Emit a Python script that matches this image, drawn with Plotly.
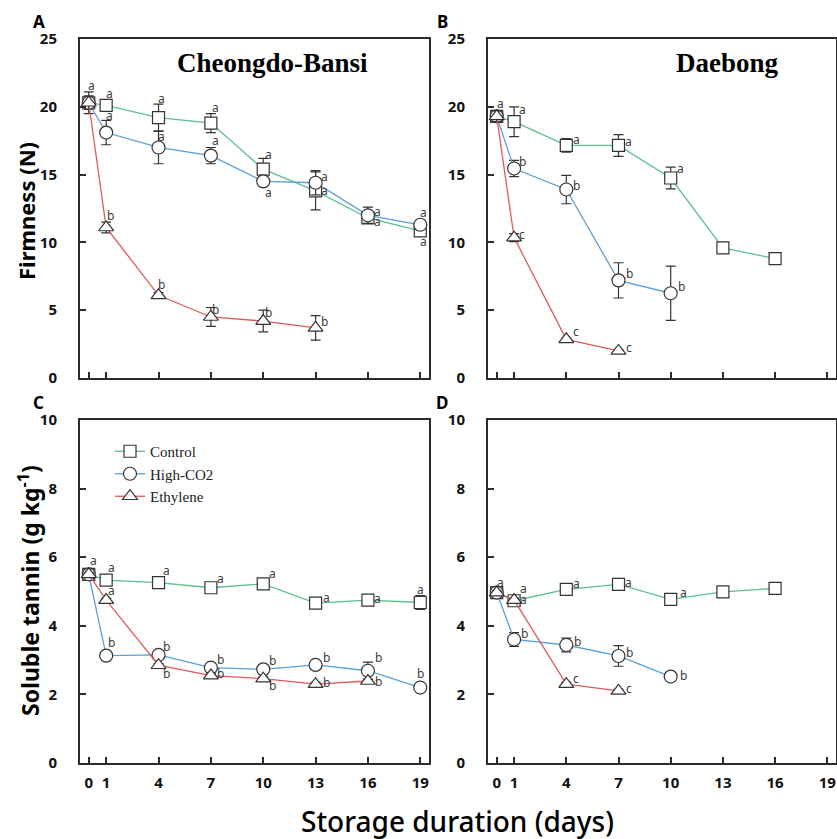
import plotly.graph_objects as go

# ---------------- data ----------------
tick_days = [0, 1, 4, 7, 10, 13, 16, 19]
series_names = ["Control", "High-CO2", "Ethylene"]
panel_titles = ["Cheongdo-Bansi", "Daebong"]
panel_letters = ["A", "B", "C", "D"]

# Panel A: firmness, Cheongdo-Bansi
A_control_days = [0, 1, 4, 7, 10, 13, 16, 19]
A_control = [20.3, 20.1, 19.2, 18.8, 15.4, 13.8, 11.8, 10.85]
A_control_err = [0.3, 0.3, 1.0, 0.7, 0.8, 1.4, 0.4, 0.3]
A_control_let = ["a", "a", "a", "a", "a", "a", "a", "a"]
A_high_days = [0, 1, 4, 7, 10, 13, 16, 19]
A_high = [20.3, 18.1, 17.0, 16.4, 14.5, 14.4, 12.0, 11.3]
A_high_err = [0.5, 0.9, 1.2, 0.6, 0.3, 0.9, 0.6, 0.3]
A_high_let = [None, "a", "a", "a", "a", "a", "a", "a"]
A_eth_days = [0, 1, 4, 7, 10, 13]
A_eth = [20.3, 11.1, 6.1, 4.5, 4.2, 3.7]
A_eth_err = [0.8, 0.4, 0.2, 0.7, 0.8, 0.9]
A_eth_let = [None, "b", "b", "b", "b", "b"]

# Panel B: firmness, Daebong
B_control_days = [0, 1, 4, 7, 10, 13, 16]
B_control = [19.3, 18.9, 17.15, 17.15, 14.75, 9.6, 8.8]
B_control_err = [0.4, 1.1, 0.5, 0.8, 0.8, 0.4, 0.0]
B_control_let = ["a", "a", "a", "a", "a", None, None]
B_high_days = [0, 1, 4, 7, 10]
B_high = [19.3, 15.45, 13.9, 7.2, 6.25]
B_high_err = [0.4, 0.6, 1.05, 1.3, 2.0]
B_high_let = [None, "b", "b", "b", "b"]
B_eth_days = [0, 1, 4, 7]
B_eth = [19.3, 10.35, 2.85, 2.0]
B_eth_err = [0.4, 0.3, 0.1, 0.1]
B_eth_let = [None, "c", "c", "c"]

# Panel C: soluble tannin, Cheongdo-Bansi
C_control_days = [0, 1, 4, 7, 10, 13, 16, 19]
C_control = [5.5, 5.33, 5.26, 5.11, 5.22, 4.66, 4.75, 4.68]
C_control_err = [0.05, 0.05, 0.05, 0.05, 0.05, 0.05, 0.05, 0.2]
C_control_let = ["a", "a", "a", "a", "a", "a", "a", "a"]
C_high_days = [0, 1, 4, 7, 10, 13, 16, 19]
C_high = [5.5, 3.13, 3.15, 2.78, 2.73, 2.86, 2.69, 2.2]
C_high_err = [0.05, 0.05, 0.05, 0.08, 0.05, 0.05, 0.25, 0.05]
C_high_let = [None, "b", "b", "b", "b", "b", "b", "b"]
C_eth_days = [0, 1, 4, 7, 10, 13, 16]
C_eth = [5.5, 4.75, 2.85, 2.55, 2.46, 2.3, 2.39]
C_eth_err = [0.05, 0.05, 0.05, 0.05, 0.05, 0.05, 0.05]
C_eth_let = [None, "a", "b", "b", "b", "b", "b"]

# Panel D: soluble tannin, Daebong
D_control_days = [0, 1, 4, 7, 10, 13, 16]
D_control = [4.97, 4.73, 5.06, 5.21, 4.77, 4.99, 5.09]
D_control_err = [0.05, 0.05, 0.05, 0.05, 0.05, 0.05, 0.05]
D_control_let = ["a", "a", "a", "a", "a", None, None]
D_high_days = [0, 1, 4, 7, 10]
D_high = [4.97, 3.6, 3.44, 3.12, 2.52]
D_high_err = [0.05, 0.2, 0.2, 0.3, 0.05]
D_high_let = [None, "b", "b", "b", "b"]
D_eth_days = [0, 1, 4, 7]
D_eth = [4.97, 4.75, 2.3, 2.1]
D_eth_err = [0.05, 0.05, 0.05, 0.05]
D_eth_let = [None, "a", "c", "c"]

# ---------------- styles ----------------
W, H = 837, 839
colors = ["#5cbf8e", "#5b9fd6", "#e05a5a"]
symbols = ["square", "circle", "triangle-up"]
msizes = [12, 13, 13]
AX = "#2b2b2b"
FONT = "Noto Sans"

# letter label offsets (pixels, x right / y up), per panel per series
offsets = {
    "A": [
        [(3, 17), (3, 12), (3, 19), (5, 16), (5, 15), (9, 0), (10, -4), (3, -11)],
        [None, (3, 17), (3, 11), (5, 15), (5, -11), (9, 6), (10, 4), (3, 12)],
        [None, (4, 12), (3, 11), (5, 7), (5, 9), (9, 6)],
    ],
    "B": [
        [(4, 13), (8, 12), (10, 6), (10, 4), (10, 9), None, None],
        [None, (8, 7), (10, 4), (11, 7), (11, 7)],
        [None, (8, 3), (10, 8), (10, 3)],
    ],
    "C": [
        [(5, 14), (5, 13), (8, 12), (10, 9), (9, 10), (11, 6), (10, 2), (0, 13)],
        [None, (5, 13), (8, 8), (10, 8), (9, 9), (11, 7), (11, 13), (0, 14)],
        [None, (5, 10), (8, -8), (10, 2), (9, -7), (11, 2), (11, 0)],
    ],
    "D": [
        [(4, 10), (9, 12), (10, 6), (10, 2), (13, 7), None, None],
        [None, (10, 6), (11, 4), (11, 3), (13, 1)],
        [None, (9, 1), (10, 6), (10, 2)],
    ],
}

panels = {
    "A": [(A_control_days, A_control, A_control_err, A_control_let),
          (A_high_days, A_high, A_high_err, A_high_let),
          (A_eth_days, A_eth, A_eth_err, A_eth_let)],
    "B": [(B_control_days, B_control, B_control_err, B_control_let),
          (B_high_days, B_high, B_high_err, B_high_let),
          (B_eth_days, B_eth, B_eth_err, B_eth_let)],
    "C": [(C_control_days, C_control, C_control_err, C_control_let),
          (C_high_days, C_high, C_high_err, C_high_let),
          (C_eth_days, C_eth, C_eth_err, C_eth_let)],
    "D": [(D_control_days, D_control, D_control_err, D_control_let),
          (D_high_days, D_high, D_high_err, D_high_let),
          (D_eth_days, D_eth, D_eth_err, D_eth_let)],
}

# pixel boxes of each panel: (left, right, top, bottom)
boxes = {"A": (80, 429, 39, 378), "B": (488, 836, 39, 378),
         "C": (80, 429, 420, 763), "D": (488, 836, 420, 763)}
axis_ids = {"A": "", "B": "2", "C": "3", "D": "4"}
yranges = {"A": [0, 25], "B": [0, 25], "C": [0, 10], "D": [0, 10]}
ydticks = {"A": 5, "B": 5, "C": 2, "D": 2}

fig = go.Figure()
annotations = []

for key, series in panels.items():
    aid = axis_ids[key]
    for i, (d, v, e, lets) in enumerate(series):
        fig.add_trace(go.Scatter(
            x=d, y=v, mode="lines+markers", name=series_names[i],
            xaxis="x" + aid, yaxis="y" + aid,
            showlegend=(key == "C"),
            line=dict(color=colors[i], width=1.3),
            marker=dict(symbol=symbols[i], size=msizes[i], color="white",
                        line=dict(width=1.2, color="#333333")),
            error_y=dict(type="data", array=e, visible=True, color="#333333",
                         thickness=1.2, width=5),
        ))
        for j, lab in enumerate(lets):
            if lab is None:
                continue
            off = offsets[key][i][j]
            annotations.append(dict(
                x=d[j], y=v[j], xref="x" + aid, yref="y" + aid, text=lab,
                showarrow=False, xshift=off[0], yshift=off[1],
                xanchor="center", yanchor="middle",
                font=dict(family=FONT, size=12, color="#3a3a3a")))

layout = dict(
    width=W, height=H, margin=dict(l=0, r=0, t=0, b=0, autoexpand=False),
    template="none",
    plot_bgcolor="white", paper_bgcolor="white",
    showlegend=True,
    legend=dict(x=110 / W, y=1 - 435 / H, xanchor="left", yanchor="top",
                font=dict(family="Liberation Serif", size=15, color="#222"),
                bgcolor="rgba(0,0,0,0)", tracegroupgap=0, itemwidth=30,
                borderwidth=0),
)

for key, (l, r, t, b) in boxes.items():
    aid = axis_ids[key]
    bottom = key in ("C", "D")
    layout["xaxis" + aid] = dict(
        domain=[l / W, r / W], anchor="y" + aid, range=[-0.5, 19.5],
        tickvals=tick_days, ticktext=[str(v) for v in tick_days],
        showticklabels=bottom, ticks="inside", ticklen=6, tickwidth=1.5,
        tickcolor=AX, showline=True, linecolor=AX, linewidth=2, mirror=True,
        showgrid=False, zeroline=False, ticklabelstandoff=5, automargin=False,
        tickfont=dict(family=FONT, size=15, color="#111", weight="bold"))
    y0, y1 = yranges[key]
    layout["yaxis" + aid] = dict(
        domain=[1 - b / H, 1 - t / H], anchor="x" + aid, range=[y0, y1],
        tickvals=list(range(y0, y1 + 1, ydticks[key])),
        ticks="inside", ticklen=6, tickwidth=1.5, tickcolor=AX,
        showline=True, linecolor=AX, linewidth=2, mirror=True,
        showgrid=False, zeroline=False, ticklabelstandoff=18, automargin=False,
        tickfont=dict(family=FONT, size=15, color="#111", weight="bold"))


def paper_text(px, py, text, font, angle=0):
    annotations.append(dict(x=px / W, y=1 - py / H, xref="paper", yref="paper",
                            text=text, showarrow=False, xanchor="center",
                            yanchor="middle", textangle=angle, font=font))


# panel letters
letter_pos = {"A": (39, 22), "B": (442, 22), "C": (38, 402), "D": (442, 402)}
for k, (px, py) in letter_pos.items():
    paper_text(px, py, k, dict(family=FONT, size=17, color="#000", weight="bold"))

# panel titles
paper_text(272, 63, panel_titles[0],
           dict(family="Liberation Serif", size=27, color="#000", weight="bold"))
paper_text(727, 63, panel_titles[1],
           dict(family="Liberation Serif", size=27, color="#000", weight="bold"))

# axis titles
paper_text(26, 211, "Firmness (N)",
           dict(family=FONT, size=22, color="#000", weight="bold"), -90)
paper_text(29, 591, "Soluble tannin (g kg<sup>-1</sup>)",
           dict(family=FONT, size=23, color="#000", weight="bold"), -90)
paper_text(457, 821, "Storage duration (days)",
           dict(family=FONT, size=28, color="#000", weight=500))

layout["annotations"] = annotations
fig.update_layout(**layout)
fig.write_html("out.html")
